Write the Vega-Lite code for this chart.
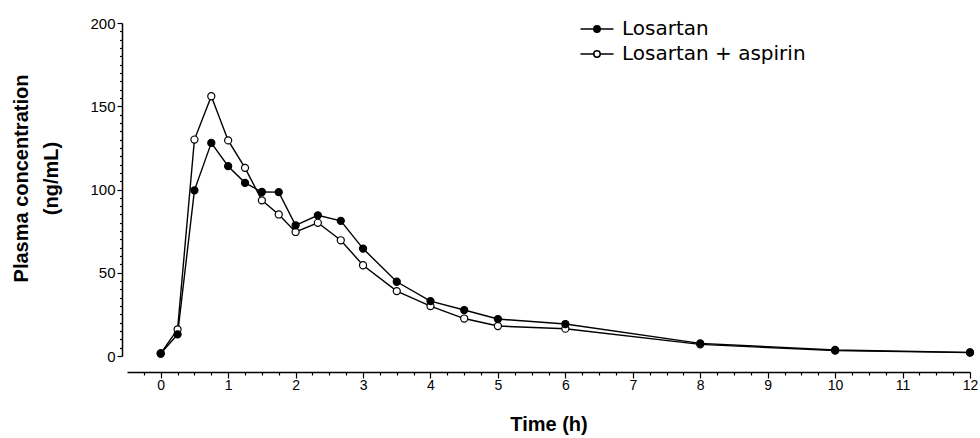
{
  "$schema": "https://vega.github.io/schema/vega-lite/v6.json",
  "width": 843,
  "height": 333,
  "autosize": "none",
  "padding": {"left": 127, "top": 23, "right": 10, "bottom": 82},
  "background": "white",
  "config": {"view": {"stroke": null}, "font": "Liberation Sans"},
  "data": {
    "values": [
      {"time": 0, "conc": 1.5, "group": "Losartan + aspirin"},
      {"time": 0.25, "conc": 16, "group": "Losartan + aspirin"},
      {"time": 0.5, "conc": 130, "group": "Losartan + aspirin"},
      {"time": 0.75, "conc": 156, "group": "Losartan + aspirin"},
      {"time": 1, "conc": 129.5, "group": "Losartan + aspirin"},
      {"time": 1.25, "conc": 113, "group": "Losartan + aspirin"},
      {"time": 1.5, "conc": 93.5, "group": "Losartan + aspirin"},
      {"time": 1.75, "conc": 85, "group": "Losartan + aspirin"},
      {"time": 2, "conc": 74.5, "group": "Losartan + aspirin"},
      {"time": 2.33, "conc": 80, "group": "Losartan + aspirin"},
      {"time": 2.67, "conc": 69.5, "group": "Losartan + aspirin"},
      {"time": 3, "conc": 54.5, "group": "Losartan + aspirin"},
      {"time": 3.5, "conc": 39, "group": "Losartan + aspirin"},
      {"time": 4, "conc": 30, "group": "Losartan + aspirin"},
      {"time": 4.5, "conc": 22.5, "group": "Losartan + aspirin"},
      {"time": 5, "conc": 18, "group": "Losartan + aspirin"},
      {"time": 6, "conc": 16.4, "group": "Losartan + aspirin"},
      {"time": 8, "conc": 7, "group": "Losartan + aspirin"},
      {"time": 10, "conc": 3.2, "group": "Losartan + aspirin"},
      {"time": 12, "conc": 2, "group": "Losartan + aspirin"},
      {"time": 0, "conc": 1.5, "group": "Losartan"},
      {"time": 0.25, "conc": 13, "group": "Losartan"},
      {"time": 0.5, "conc": 99.5, "group": "Losartan"},
      {"time": 0.75, "conc": 128, "group": "Losartan"},
      {"time": 1, "conc": 114, "group": "Losartan"},
      {"time": 1.25, "conc": 104, "group": "Losartan"},
      {"time": 1.5, "conc": 98.5, "group": "Losartan"},
      {"time": 1.75, "conc": 98.4, "group": "Losartan"},
      {"time": 2, "conc": 78.5, "group": "Losartan"},
      {"time": 2.33, "conc": 84.5, "group": "Losartan"},
      {"time": 2.67, "conc": 81.2, "group": "Losartan"},
      {"time": 3, "conc": 64.5, "group": "Losartan"},
      {"time": 3.5, "conc": 44.6, "group": "Losartan"},
      {"time": 4, "conc": 33, "group": "Losartan"},
      {"time": 4.5, "conc": 27.6, "group": "Losartan"},
      {"time": 5, "conc": 22.2, "group": "Losartan"},
      {"time": 6, "conc": 19.2, "group": "Losartan"},
      {"time": 8, "conc": 7.6, "group": "Losartan"},
      {"time": 10, "conc": 3.6, "group": "Losartan"},
      {"time": 12, "conc": 2.2, "group": "Losartan"}
    ]
  },
  "encoding": {
    "x": {
      "field": "time",
      "type": "quantitative",
      "scale": {"domain": [-0.5, 12], "nice": false, "zero": false},
      "axis": {
        "title": "Time (h)",
        "titleFont": "Liberation Sans",
        "titleFontSize": 20,
        "titleFontWeight": "bold",
        "titleColor": "black",
        "titlePadding": 22,
        "offset": 16,
        "grid": false,
        "values": [-0.25, 0, 0.25, 0.5, 0.75, 1, 1.25, 1.5, 1.75, 2, 2.25, 2.5, 2.75, 3, 3.25, 3.5, 3.75, 4, 4.25, 4.5, 4.75, 5, 5.25, 5.5, 5.75, 6, 6.25, 6.5, 6.75, 7, 7.25, 7.5, 7.75, 8, 8.25, 8.5, 8.75, 9, 9.25, 9.5, 9.75, 10, 10.25, 10.5, 10.75, 11, 11.25, 11.5, 11.75, 12],
        "labelExpr": "datum.value % 1 === 0 ? format(datum.value, 'd') : ''",
        "labelOverlap": false,
        "labelFlush": false,
        "labelFontSize": 14,
        "labelColor": "black",
        "labelPadding": 0,
        "tickSize": {"condition": {"test": "datum.value % 1 === 0", "value": 6}, "value": 3},
        "tickColor": "black",
        "tickWidth": 1.2,
        "domainColor": "black",
        "domainWidth": 1.5
      }
    },
    "y": {
      "field": "conc",
      "type": "quantitative",
      "scale": {"domain": [0, 200], "nice": false},
      "axis": {
        "title": ["Plasma concentration", "(ng/mL)"],
        "titleFont": "Liberation Sans",
        "titleFontSize": 20,
        "titleFontWeight": "bold",
        "titleColor": "black",
        "titleLineHeight": 30,
        "titlePadding": 28,
        "titleY": 155,
        "offset": 5,
        "grid": false,
        "values": [0, 5, 10, 15, 20, 25, 30, 35, 40, 45, 50, 55, 60, 65, 70, 75, 80, 85, 90, 95, 100, 105, 110, 115, 120, 125, 130, 135, 140, 145, 150, 155, 160, 165, 170, 175, 180, 185, 190, 195, 200],
        "labelExpr": "datum.value % 50 === 0 ? datum.label : ''",
        "labelOverlap": false,
        "labelFlush": false,
        "labelFontSize": 15,
        "labelColor": "black",
        "labelPadding": 2,
        "tickSize": {"condition": {"test": "datum.value % 50 === 0", "value": 5}, "value": 2.5},
        "tickColor": "black",
        "tickWidth": 1.2,
        "domainColor": "black",
        "domainWidth": 1.5
      }
    }
  },
  "layer": [
    {
      "mark": {"type": "line", "color": "black", "strokeWidth": 1.4},
      "encoding": {"detail": {"field": "group"}, "order": {"field": "time"}}
    },
    {
      "mark": {"type": "point", "filled": true, "shape": "circle", "size": 50, "stroke": "black", "strokeWidth": 1.2, "opacity": 1},
      "encoding": {
        "fill": {
          "field": "group",
          "type": "nominal",
          "scale": {"domain": ["Losartan", "Losartan + aspirin"], "range": ["black", "white"]},
          "legend": {
            "title": null,
            "orient": "none",
            "legendX": 460,
            "legendY": -4,
            "symbolType": "M-5.5,0H-1.07M1.07,0H5.5M1.07,0A1.07,1.07,0,1,1,-1.07,0A1.07,1.07,0,1,1,1.07,0Z",
            "symbolSize": 36,
            "symbolStrokeColor": "black",
            "symbolStrokeWidth": 1.5,
            "symbolOpacity": 1,
            "labelOffset": 15,
            "labelFont": "DejaVu Sans",
            "labelFontSize": 20,
            "labelColor": "black",
            "labelLimit": 400,
            "rowPadding": 5
          }
        }
      }
    }
  ]
}
